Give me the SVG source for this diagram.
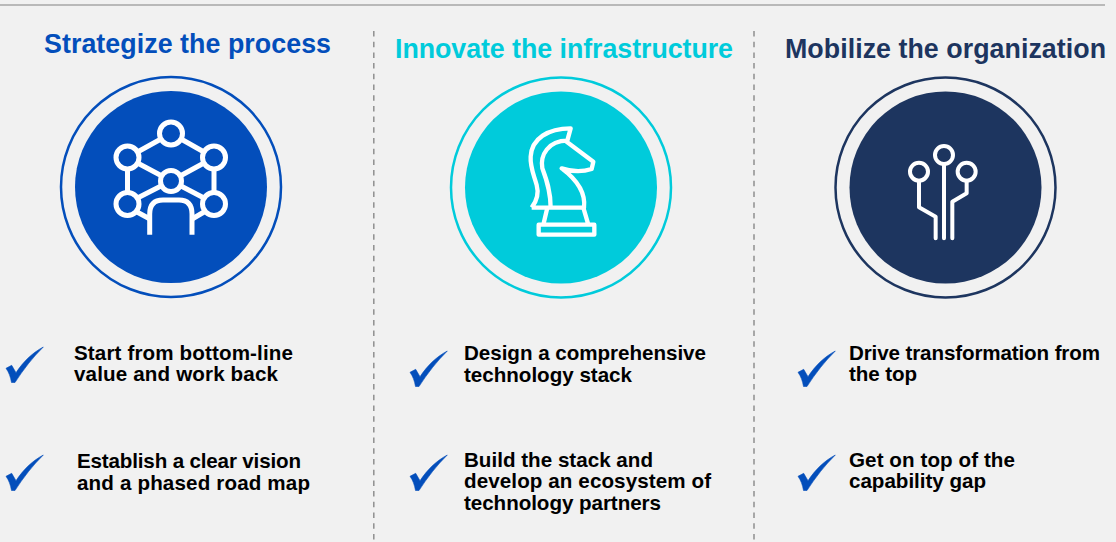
<svg xmlns="http://www.w3.org/2000/svg" width="1116" height="542" viewBox="0 0 1116 542">
<style>
text{font-family:"Liberation Sans",Arial,sans-serif;font-weight:700}
.t{font-size:26.8px}
.b{font-size:20.6px;fill:#000}
.ic{fill:none;stroke:#fff;stroke-linejoin:round}
.dash{stroke:#8f8f8f;stroke-width:1.5;stroke-dasharray:5.500 5.200;fill:none}
</style>
<defs>
<path id="chk" d="M6 368.300L11.700 365.300L16 372.700C23 362 32 353 43.300 347C33 357 23 370 15 382.500L11.500 382.500C10.500 377 9 372.500 6 368.300Z" fill="#034ebb" stroke="#034ebb" stroke-width=".6" stroke-linejoin="round"/>
</defs>
<rect width="1116" height="542" fill="#f1f1f1"/>
<line x1="0" y1="5" x2="1105" y2="5" stroke="#a6a6a6" stroke-width="1.500"/>
<g id="connectors">
<line class="dash" x1="373.800" y1="31" x2="373.800" y2="540"/>
<line class="dash" x1="754" y1="31" x2="754" y2="540"/>
</g>
<g id="col1">
<text class="t" x="44" y="53" fill="#034ebb" textLength="287">Strategize the process</text>
<circle cx="171" cy="187" r="110" fill="none" stroke="#034ebb" stroke-width="2.500"/>
<circle cx="171" cy="187" r="96" fill="#034ebb"/>
<g class="ic" stroke-width="5">
<circle cx="171" cy="133.500" r="11.500"/>
<circle cx="127.500" cy="157.500" r="11.500"/>
<circle cx="214" cy="157.500" r="11.500"/>
<circle cx="127.500" cy="204" r="11.500"/>
<circle cx="214" cy="204" r="11.500"/>
<circle cx="171" cy="181" r="10.500"/>
<path d="M161 139L137.500 152M181 139L204 152M137.500 163L161 175.500M204 163L181 175.500M127.500 169V192.500M214 169V192.500M137.500 198L161 186M204 198L181 186M137 212L149 218.500M204 212L193 218.500"/>
<path d="M149.700 234.700V214Q149.700 200 163 200H179Q192 200 192 214V234.700"/>
</g>
</g>
<g id="col2">
<text class="t" x="395" y="58" fill="#00cbdb" textLength="338">Innovate the infrastructure</text>
<circle cx="561" cy="187.500" r="110" fill="none" stroke="#00cbdb" stroke-width="2.500"/>
<circle cx="561" cy="187.500" r="96" fill="#00cbdb"/>
<g class="ic" transform="translate(480 100) scale(.3333)">
<path stroke-width="13" d="M155 323Q180 290 170 255C160 220 150 200 152 170C155 115 205 85 272 85L262 122C205 122 180 165 187 205C200 240 212 275 212 323M155 323H312C318 275 285 235 245 205C275 215 310 215 335 207L340 185L258 124"/>
<path stroke-width="13" d="M202 323L190 374M310 323L325 374M176 374H343V404H176Z"/>
</g>
</g>
<g id="col3">
<text class="t" x="785" y="58" fill="#1d355f" textLength="321">Mobilize the organization</text>
<circle cx="945.500" cy="187.500" r="110" fill="none" stroke="#1d355f" stroke-width="2.500"/>
<circle cx="945.500" cy="187.500" r="96" fill="#1d355f"/>
<g class="ic" stroke-width="12" stroke-linecap="round" transform="translate(870 120) scale(.3333)">
<circle cx="147" cy="155" r="27"/>
<circle cx="222" cy="105" r="27"/>
<circle cx="290" cy="155" r="27"/>
<path d="M147 182V262L197 290V355M222 132V355M290 182V220L247 245V355"/>
</g>
</g>
<g id="item1"><use href="#chk"/><text class="b" x="74" y="359.500" textLength="219">Start from bottom-line</text><text class="b" x="74" y="380.500" textLength="204">value and work back</text></g>
<g id="item2"><use href="#chk" y="108"/><text class="b" x="77" y="467.500" textLength="224">Establish a clear vision</text><text class="b" x="77" y="489.500" textLength="233">and a phased road map</text></g>
<g id="item3"><use href="#chk" x="404" y="4"/><text class="b" x="464" y="359.500" textLength="242">Design a comprehensive</text><text class="b" x="464" y="381.500" textLength="168">technology stack</text></g>
<g id="item4"><use href="#chk" x="404" y="108"/><text class="b" x="464" y="466.500" textLength="189">Build the stack and</text><text class="b" x="464" y="488" textLength="247">develop an ecosystem of</text><text class="b" x="464" y="510" textLength="197">technology partners</text></g>
<g id="item5"><use href="#chk" x="792" y="4"/><text class="b" x="849" y="359.500" textLength="251">Drive transformation from</text><text class="b" x="849" y="380.500" textLength="68">the top</text></g>
<g id="item6"><use href="#chk" x="792" y="108"/><text class="b" x="849" y="466.500" textLength="166">Get on top of the</text><text class="b" x="849" y="488" textLength="137">capability gap</text></g>
</svg>
